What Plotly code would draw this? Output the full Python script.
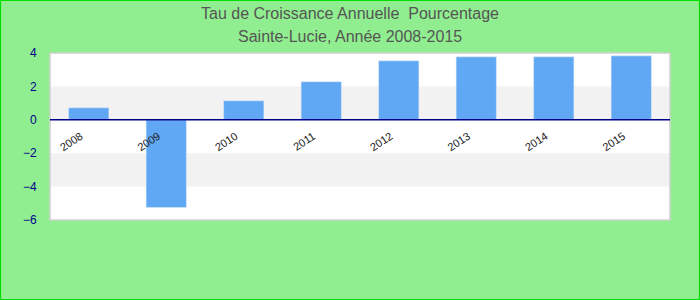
import plotly.graph_objects as go

years = ["2008", "2009", "2010", "2011", "2012", "2013", "2014", "2015"]
growth = [0.72, -5.25, 1.14, 2.28, 3.53, 3.77, 3.77, 3.83]
band_edges = [-6, -4, -2, 0, 2, 4]
title_lines = ["Tau de Croissance Annuelle  Pourcentage", "Sainte-Lucie, Année 2008-2015"]

fig = go.Figure()
fig.add_trace(go.Bar(x=years, y=growth, marker_color="#60a8f4", width=0.52,
                     hoverinfo="x+y"))

shapes = []
for i in range(len(band_edges) - 1):
    if i % 2 == 1:
        shapes.append(dict(type="rect", xref="paper", yref="y", x0=0, x1=1,
                           y0=band_edges[i], y1=band_edges[i + 1],
                           fillcolor="#f2f2f2", line=dict(width=0), layer="below"))
shapes.append(dict(type="rect", xref="paper", yref="paper", x0=0, x1=1, y0=0, y1=1,
                   line=dict(color="#d0d0d0", width=1.5), fillcolor="rgba(0,0,0,0)"))
shapes.append(dict(type="line", xref="paper", yref="y", x0=0, x1=1, y0=0, y1=0,
                   line=dict(color="#00008b", width=1.5)))
shapes.append(dict(type="rect", xref="paper", yref="paper", x0=-49.5/620, x1=1 + 29.5/620,
                   y0=-79.5/167, y1=1 + 52.5/167, line=dict(color="#00e000", width=1.2),
                   fillcolor="rgba(0,0,0,0)", layer="above"))

annotations = []
for i, (line, ypix) in enumerate(zip(title_lines, [13, 36])):
    annotations.append(dict(text=line, xref="paper", yref="paper",
                            x=(350 - 50) / 620, y=(220 - ypix) / 167,
                            xanchor="center", yanchor="middle", showarrow=False,
                            font=dict(family="Liberation Sans, Arial", size=16, color="#555555")))

fig.update_layout(
    width=700, height=300,
    margin=dict(l=50, r=30, t=53, b=80),
    paper_bgcolor="#90ee90",
    plot_bgcolor="white",
    showlegend=False,
    shapes=shapes,
    annotations=annotations,
    xaxis=dict(anchor="free", position=100/167, showline=False, showgrid=False, zeroline=False,
               tickangle=-33, tickfont=dict(family="Liberation Sans, Arial", size=11, color="#222222"),
               ticks="", ticklen=0, ticklabelshift=-8, ticklabelstandoff=7),
    yaxis=dict(range=[-6, 4], dtick=2, showgrid=False, zeroline=False, showline=False,
               tickfont=dict(family="Liberation Sans, Arial", size=12, color="#00008b"),
               ticks="outside", ticklen=10, tickcolor="rgba(0,0,0,0)"),
)

fig.write_html("out.html")
